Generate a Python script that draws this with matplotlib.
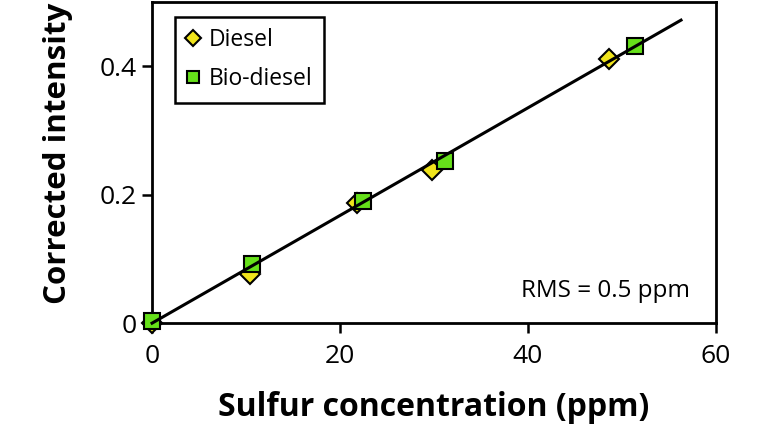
import matplotlib
matplotlib.use("Agg")
import matplotlib.pyplot as plt
import numpy as np

diesel_x = [0.0, 10.4, 21.8, 29.8, 48.6]
diesel_y = [0.0, 0.076, 0.187, 0.239, 0.412]
bio_x = [0.0, 10.6, 22.4, 31.2, 51.4]
bio_y = [0.003, 0.092, 0.191, 0.252, 0.432]
fit_x = [0.0, 56.3]
fit_y = [0.0, 0.472]
xticks = [0, 20, 40, 60]
yticks = [0, 0.2, 0.4]
ytick_labels = ["0", "0.2", "0.4"]

plt.rcParams['font.family'] = ['Open Sans', 'DejaVu Sans']

fig = plt.figure(figsize=(7.68, 4.32), dpi=100)
ax = fig.add_axes([0.198, 0.252, 0.734, 0.743])

ax.plot(diesel_x, diesel_y, linestyle='none', marker='D', markersize=10,
        markerfacecolor='#f0e41c', markeredgecolor='black', markeredgewidth=1.5,
        label='Diesel', zorder=3, clip_on=False)
ax.plot(bio_x, bio_y, linestyle='none', marker='s', markersize=11,
        markerfacecolor='#66e01a', markeredgecolor='black', markeredgewidth=1.5,
        label='Bio-diesel', zorder=3, clip_on=False)
ax.plot(fit_x, fit_y, color='black', linewidth=2.2, zorder=4, clip_on=False)

ax.set_xlim(0, 60)
ax.set_ylim(0, 0.5)
ax.set_xticks(xticks)
ax.set_yticks(yticks)
ax.set_yticklabels(ytick_labels)
ax.tick_params(direction='out', length=7, width=1.8, labelsize=19, pad=4)
ax.tick_params(axis='x', pad=8)
for s in ax.spines.values():
    s.set_linewidth(2)

ax.set_xlabel('Sulfur concentration (ppm)', fontsize=23, fontweight='bold', labelpad=16)
ax.set_ylabel('Corrected intensity', fontsize=22.5, fontweight='bold', labelpad=19, y=0.53)

ax.text(0.955, 0.1, 'RMS = 0.5 ppm', transform=ax.transAxes, ha='right', va='center', fontsize=17.5)

leg = ax.legend(loc='upper left', bbox_to_anchor=(0.02, 0.99), fontsize=16.5,
                fancybox=False, framealpha=1, edgecolor='black', handlelength=0.6,
                handletextpad=0.4, borderpad=0.5, labelspacing=0.65, markerscale=0.8)
leg.get_frame().set_linewidth(1.8)

fig.savefig('out.png', dpi=100)
